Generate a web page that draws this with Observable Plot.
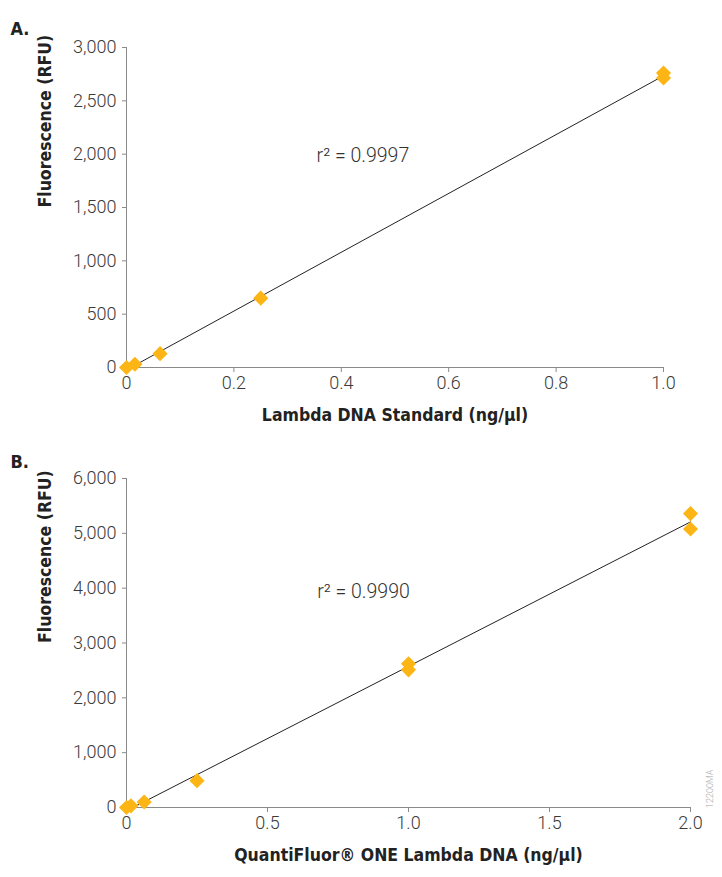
<!DOCTYPE html>
<html><head><meta charset="utf-8">
<script src="https://cdn.jsdelivr.net/npm/d3@7"></script>
<script src="https://cdn.jsdelivr.net/npm/@observablehq/plot@0.6"></script>
<style>
body{margin:0;background:#fff;}
#chart svg{display:block;}
</style>
</head><body><div id="chart"></div>
<script>
// Panel A data
const aConc = [0, 0.0156, 0.0625, 0.25, 1.0, 1.0];
const aRFU = [0, 30, 130, 650, 2760, 2715];
const aXTicks = [0, 0.2, 0.4, 0.6, 0.8, 1.0];
const aYTicks = [0, 500, 1000, 1500, 2000, 2500, 3000];
// Panel B data
const bConc = [0, 0.0156, 0.0625, 0.25, 1.0, 1.0, 2.0, 2.0];
const bRFU = [0, 30, 100, 490, 2620, 2510, 5360, 5080];
const bXTicks = [0, 0.5, 1.0, 1.5, 2.0];
const bYTicks = [0, 1000, 2000, 3000, 4000, 5000, 6000];

const COLOR = "#FDB515";
const tickFont = "Roboto, 'Helvetica Neue', Arial, sans-serif";
const titleFont = "'Liberation Sans Narrow', 'DejaVu Sans Condensed', 'Arial Narrow', sans-serif";
const fmtX = d => d === 0 ? "0" : d.toFixed(1);

function panel(o) {
  const data = o.x.map((x, i) => ({x, y: o.y[i]}));
  return Plot.plot({
    width: 722, height: o.height,
    marginTop: o.mt, marginBottom: o.mb, marginLeft: 126, marginRight: o.mr,
    style: {fontFamily: tickFont, fontSize: "18px", fontWeight: 300, color: "#3a3a3a", background: "#fff"},
    x: {domain: o.xdom},
    y: {domain: o.ydom},
    marks: [
      Plot.axisY({ticks: o.yt, tickFormat: d3.format(","), tickSize: 4, tickPadding: 6, stroke: "#8a8a8a", fill: "#3a3a3a", label: null, fontSize: 18}),
      Plot.axisX({ticks: o.xt, tickFormat: fmtX, tickSize: 5, tickPadding: 4, stroke: "#8a8a8a", fill: "#3a3a3a", label: null, fontSize: 18}),
      Plot.ruleY([0], {stroke: "#8a8a8a"}),
      Plot.ruleX([0], {stroke: "#8a8a8a"}),
      Plot.linearRegressionY(data, {x: "x", y: "y", stroke: "#222", strokeWidth: 1, ci: 0}),
      Plot.dot(data, {x: "x", y: "y", symbol: "diamond2", r: 6.8, fill: COLOR, stroke: null}),
      Plot.text([o.r2], {x: o.r2x, y: o.r2y, text: d => d, textAnchor: "start", fontSize: 19.5, fill: "#333"}),
      Plot.text([o.letter], {frameAnchor: "top-left", dx: -116, dy: o.ldy, text: d => d, textAnchor: "start", fontSize: 18, fontWeight: 700, fontFamily: titleFont, fill: "#222"}),
      Plot.text([o.ylabel], {frameAnchor: "left", dx: -81, rotate: -90, text: d => d, fontSize: 17.5, fontWeight: 700, fontFamily: titleFont, fill: "#222"}),
      Plot.text([o.xlabel], {frameAnchor: "bottom", dy: 53, text: d => d, fontSize: 17.5, fontWeight: 700, fontFamily: titleFont, fill: "#222"}),
      ...(o.code ? [Plot.text([o.code], {frameAnchor: "bottom-right", dx: 22, dy: -38, rotate: -90, text: d => d, fontSize: 9, fill: "#aaa"})] : [])
    ]
  });
}

const el = document.getElementById("chart");
el.append(panel({
  x: aConc, y: aRFU, xdom: [0, 1], ydom: [0, 3000], xt: aXTicks, yt: aYTicks,
  height: 440, mt: 47, mb: 73, mr: 59, letter: "A.", ldy: -25,
  r2: "r² = 0.9997", r2x: 0.354, r2y: 1985,
  ylabel: "Fluorescence (RFU)", xlabel: "Lambda DNA Standard (ng/µl)"
}));
el.append(panel({
  x: bConc, y: bRFU, xdom: [0, 2], ydom: [0, 6000], xt: bXTicks, yt: bYTicks,
  height: 437, mt: 38, mb: 70, mr: 32, letter: "B.", ldy: -23,
  r2: "r² = 0.9990", r2x: 0.676, r2y: 3940,
  ylabel: "Fluorescence (RFU)", xlabel: "QuantiFluor® ONE Lambda DNA (ng/µl)", code: "12200MA"
}));
</script></body></html>
